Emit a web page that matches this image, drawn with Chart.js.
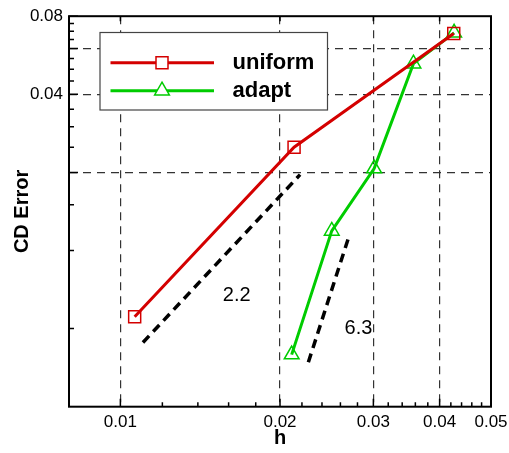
<!DOCTYPE html>
<html><head><meta charset="utf-8">
<script src="https://cdn.jsdelivr.net/npm/chart.js@4/dist/chart.umd.min.js"></script>
<style>html,body{margin:0;padding:0;background:#fff}#wrap{width:509px;height:453px}</style>
</head><body><div id="wrap"><canvas id="c" width="509" height="453"></canvas></div>
<script>
// ---- data ----
const uniformH   = [0.01064, 0.02126, 0.04253];
const uniformErr = [0.00555, 0.0250, 0.0686];
const adaptH     = [0.02104, 0.02504, 0.0301, 0.0357, 0.0426];
const adaptErr   = [0.00397, 0.0119, 0.0207, 0.0525, 0.0690];
const slope1H    = [0.01103, 0.02182];
const slope1Err  = [0.00442, 0.0196];
const slope2H    = [0.02262, 0.0270];
const slope2Err  = [0.00371, 0.01138];
const slopeText  = ['2.2', '6.3'];
const slopeTextH = [0.01657, 0.02812];
const slopeTextErr = [0.00668, 0.00499];
// ---- axes ----
const xMajor = [0.01, 0.02, 0.03, 0.04, 0.05];
const xLabels = ['0.01', '0.02', '0.03', '0.04', '0.05'];
const xMinor = [0.012, 0.014, 0.016, 0.018, 0.022, 0.024, 0.026, 0.028, 0.032, 0.034, 0.036, 0.038, 0.042, 0.044, 0.046, 0.048];
const xGrid = [0.01, 0.02, 0.03, 0.04];
const yMajor = [0.08, 0.06, 0.04, 0.02];
const yLabelVals = [0.08, 0.04];
const yLabels = ['0.08', '0.04'];
const yMinor = [0.075, 0.07, 0.065, 0.055, 0.05, 0.045, 0.035, 0.03, 0.025, 0.015, 0.01, 0.005];
const yGrid = [0.06, 0.04, 0.02];

const FONT = "'Liberation Sans', Arial, Helvetica, sans-serif";
const RED = '#d40000', GREEN = '#00cc00';

const pts = (xs, ys) => xs.map((x, i) => ({x: x, y: ys[i]}));

const framePlugin = {
  id: 'frame',
  afterDatasetsDraw(chart) {
    const {ctx, chartArea: a, scales: {x, y}} = chart;
    ctx.save();
    ctx.strokeStyle = '#000';
    ctx.lineWidth = 1.5;
    ctx.beginPath();
    xMajor.forEach(v => { const px = x.getPixelForValue(v); ctx.moveTo(px, a.bottom); ctx.lineTo(px, a.bottom - 8); });
    xGrid.forEach(v => { const px = x.getPixelForValue(v); ctx.moveTo(px, a.top); ctx.lineTo(px, a.top + 5); });
    xMinor.forEach(v => { const px = x.getPixelForValue(v); ctx.moveTo(px, a.bottom); ctx.lineTo(px, a.bottom - 4.5); });
    yMajor.forEach(v => { const py = y.getPixelForValue(v); ctx.moveTo(a.left, py); ctx.lineTo(a.left + 9, py); });
    yMinor.forEach(v => { const py = y.getPixelForValue(v); ctx.moveTo(a.left, py); ctx.lineTo(a.left + 5, py); });
    ctx.stroke();
    ctx.lineWidth = 2;
    ctx.strokeRect(a.left, a.top, a.right - a.left, a.bottom - a.top);
    ctx.fillStyle = '#000';
    ctx.font = '20px ' + FONT;
    ctx.textAlign = 'center';
    ctx.textBaseline = 'middle';
    slopeText.forEach((t, i) => ctx.fillText(t, x.getPixelForValue(slopeTextH[i]), y.getPixelForValue(slopeTextErr[i])));
    ctx.restore();
  },
  afterDraw(chart) {
    const {ctx} = chart;
    const items = chart.data.datasets.filter(d => d.inLegend);
    ctx.save();
    const bx = 100, by = 32.5, bw = 227.5, bh = 77.5;
    ctx.fillStyle = '#fff';
    ctx.fillRect(bx, by, bw, bh);
    ctx.strokeStyle = '#444';
    ctx.lineWidth = 1.2;
    ctx.strokeRect(bx, by, bw, bh);
    items.forEach((d, i) => {
      const yy = 62.7 + i * 28;
      ctx.strokeStyle = d.borderColor;
      ctx.lineWidth = d.borderWidth;
      ctx.beginPath(); ctx.moveTo(110.5, yy); ctx.lineTo(214, yy); ctx.stroke();
      ctx.lineWidth = d.pointBorderWidth;
      ctx.fillStyle = '#fff';
      const cx = 162;
      ctx.beginPath();
      if (d.pointStyle === 'rect') {
        ctx.rect(cx - 6, yy - 6, 12, 12);
      } else {
        const r = d.pointRadius;
        ctx.moveTo(cx, yy - r);
        ctx.lineTo(cx + r * Math.sqrt(3) / 2, yy + r / 2);
        ctx.lineTo(cx - r * Math.sqrt(3) / 2, yy + r / 2);
        ctx.closePath();
      }
      ctx.fill(); ctx.stroke();
      ctx.fillStyle = '#000';
      ctx.font = 'bold 22px ' + FONT;
      ctx.textAlign = 'left';
      ctx.textBaseline = 'middle';
      ctx.fillText(d.label, 232.5, yy);
    });
    ctx.restore();
  }
};

new Chart(document.getElementById('c'), {
  type: 'scatter',
  data: {
    datasets: [
      {label: 'uniform', inLegend: true, data: pts(uniformH, uniformErr), showLine: true,
       borderColor: RED, borderWidth: 3, pointStyle: 'rect', pointRadius: 8.5, pointBorderWidth: 1.5,
       pointBorderColor: RED, pointBackgroundColor: 'rgba(255,255,255,0)'},
      {label: 'adapt', inLegend: true, data: pts(adaptH, adaptErr), showLine: true,
       borderColor: GREEN, borderWidth: 3, pointStyle: 'triangle', pointRadius: 8.5, pointBorderWidth: 1.5,
       pointBorderColor: GREEN, pointBackgroundColor: 'rgba(255,255,255,0)'},
      {label: 'slope 2.2', data: pts(slope1H, slope1Err), showLine: true, borderColor: '#000', borderWidth: 3.5,
       borderDash: [9, 6], borderCapStyle: 'butt', pointRadius: 0},
      {label: 'slope 6.3', data: pts(slope2H, slope2Err), showLine: true, borderColor: '#000', borderWidth: 3.5,
       borderDash: [9, 6], borderCapStyle: 'butt', pointRadius: 0}
    ]
  },
  options: {
    responsive: false, animation: false, devicePixelRatio: 1,
    layout: {padding: {left: 0, right: 18, top: 14, bottom: 0}},
    plugins: {legend: {display: false}, tooltip: {enabled: false}},
    scales: {
      x: {
        type: 'logarithmic', min: 0.008, max: 0.05,
        afterBuildTicks: s => { s.ticks = xMajor.concat(xMinor).map(v => ({value: v})); },
        afterFit: s => { s.height = 46.3; },
        ticks: {autoSkip: false, maxRotation: 0, minRotation: 0, padding: 5, color: '#000',
          font: {family: FONT, size: 17},
          callback: v => { const i = xMajor.indexOf(v); return i >= 0 ? xLabels[i] : ''; }},
        grid: {drawTicks: false, lineWidth: 1.2,
          color: c => (c.tick && xGrid.includes(c.tick.value)) ? '#333' : 'rgba(0,0,0,0)'},
        border: {display: false, dash: [8, 6]},
        title: {display: true, text: 'h', color: '#000', font: {family: FONT, size: 20, weight: 'bold'}, padding: {top: 0, bottom: 3}}
      },
      y: {
        type: 'logarithmic', min: 0.0025, max: 0.08,
        afterBuildTicks: s => { s.ticks = yMajor.concat(yMinor).map(v => ({value: v})); },
        afterFit: s => { s.width = 69; },
        ticks: {autoSkip: false, padding: 6, color: '#000', font: {family: FONT, size: 17},
          callback: v => { const i = yLabelVals.indexOf(v); return i >= 0 ? yLabels[i] : ''; }},
        grid: {drawTicks: false, lineWidth: 1.2,
          color: c => (c.tick && yGrid.includes(c.tick.value)) ? '#333' : 'rgba(0,0,0,0)'},
        border: {display: false, dash: [8, 6]},
        title: {display: true, text: 'CD Error', color: '#000', font: {family: FONT, size: 20, weight: 'bold'}, padding: {top: 10, bottom: 0}}
      }
    }
  },
  plugins: [framePlugin]
});
</script>
</body></html>
